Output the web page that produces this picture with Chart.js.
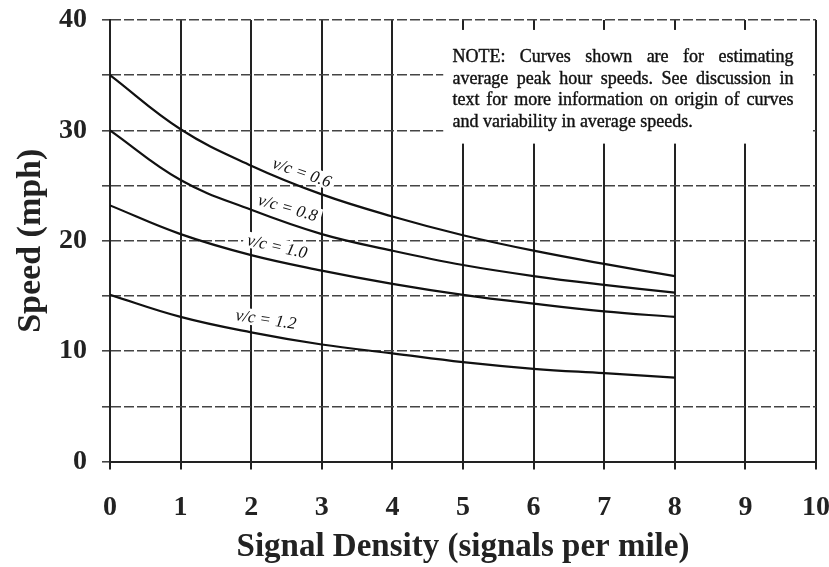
<!DOCTYPE html>
<html>
<head>
<meta charset="utf-8">
<script src="https://cdn.jsdelivr.net/npm/chart.js@4"></script>
<style>
  html, body { margin: 0; padding: 0; background: #fff; }
  #wrap { width: 829px; height: 567px; position: relative; }
</style>
</head>
<body>
<div id="wrap"><canvas id="speedChart"></canvas></div>
<script>
// signals per mile
const signalDensity = [0, 1, 2, 3, 4, 5, 6, 7, 8];

// average peak hour speed (mph) for each v/c ratio
const speedVc06 = [35.0, 30.1, 26.8, 24.2, 22.2, 20.5, 19.1, 17.9, 16.8];
const speedVc08 = [30.0, 25.5, 22.8, 20.6, 19.1, 17.8, 16.8, 16.0, 15.3];
const speedVc10 = [23.2, 20.6, 18.7, 17.3, 16.1, 15.1, 14.3, 13.6, 13.1];
const speedVc12 = [15.1, 13.1, 11.7, 10.6, 9.8, 9.0, 8.4, 8.0, 7.6];

const curveNames = ["v/c = 0.6", "v/c = 0.8", "v/c = 1.0", "v/c = 1.2"];

const noteLines = [
    "NOTE: Curves shown are for estimating",
    "average peak hour speeds.  See discussion in",
    "text for more information on origin of curves",
    "and variability in average speeds."
];

const serif = "'Liberation Serif', 'Times New Roman', serif";

function toPoints(ys) {
    return signalDensity.map((x, i) => ({ x: x, y: ys[i] }));
}

// where the curve labels sit (data units) and how far they are tilted
const curveLabels = [
    { text: curveNames[0], x: 2.72, y: 26.2, angle: 19 },
    { text: curveNames[1], x: 2.52, y: 23.0, angle: 16 },
    { text: curveNames[2], x: 2.37, y: 19.5, angle: 13 },
    { text: curveNames[3], x: 2.21, y: 12.9, angle: 8.5 }
];

const annotations = {
    id: "annotations",
    beforeDatasetsDraw(chart) {
        const { ctx, scales: { x, y } } = chart;
        ctx.save();

        // note box, white so it hides the grid under it
        const bx1 = x.getPixelForValue(4.72), bx2 = x.getPixelForValue(9.93);
        const by1 = y.getPixelForValue(39.1), by2 = y.getPixelForValue(28.8);
        ctx.fillStyle = "#fff";
        ctx.fillRect(bx1, by1, bx2 - bx1, by2 - by1);

        ctx.fillStyle = "#111";
        ctx.strokeStyle = "#111";
        ctx.lineWidth = 0.4;
        ctx.font = "18px " + serif;
        ctx.textBaseline = "alphabetic";
        const left = x.getPixelForValue(4.85), right = x.getPixelForValue(9.68);
        const top = y.getPixelForValue(36.2);
        noteLines.forEach((line, i) => {
            const by = top + i * 21.7;
            const words = line.split(/\s+/);
            if (i === noteLines.length - 1) {
                const t = words.join(" ");
                ctx.fillText(t, left, by);
                ctx.strokeText(t, left, by);
                return;
            }
            const widths = words.map(w => ctx.measureText(w).width);
            const total = widths.reduce((a, b) => a + b, 0);
            const gap = (right - left - total) / (words.length - 1);
            let cx = left;
            words.forEach((w, k) => {
                ctx.fillText(w, cx, by);
                ctx.strokeText(w, cx, by);
                cx += widths[k] + gap;
            });
        });

        // curve labels
        ctx.font = "italic 17px " + serif;
        ctx.textAlign = "center";
        ctx.textBaseline = "middle";
        curveLabels.forEach(l => {
            const px = x.getPixelForValue(l.x), py = y.getPixelForValue(l.y);
            const w = ctx.measureText(l.text).width;
            ctx.save();
            ctx.translate(px, py);
            ctx.rotate(l.angle * Math.PI / 180);
            ctx.fillStyle = "#fff";
            ctx.fillRect(-w / 2 - 4, -8, w + 8, 16);
            ctx.fillStyle = "#111";
            ctx.fillText(l.text, 0, 1);
            ctx.restore();
        });
        ctx.restore();
    }
};

const series = [speedVc06, speedVc08, speedVc10, speedVc12];

new Chart(document.getElementById("speedChart"), {
    type: "line",
    data: {
        datasets: series.map((s, i) => ({
            label: curveNames[i],
            data: toPoints(s),
            borderColor: "#111",
            borderWidth: 2.2,
            pointRadius: 0,
            fill: false,
            tension: 0.4
        }))
    },
    options: {
        responsive: true,
        maintainAspectRatio: false,
        animation: false,
        layout: { padding: 0 },
        plugins: {
            legend: { display: false },
            tooltip: { enabled: false }
        },
        scales: {
            x: {
                type: "linear",
                min: 0,
                max: 10,
                ticks: {
                    stepSize: 1,
                    padding: 21,
                    color: "#222",
                    font: { family: serif, size: 28, weight: "bold" }
                },
                grid: { color: "#222", lineWidth: 2, tickLength: 8 },
                border: { color: "#222", width: 2 },
                title: {
                    display: true,
                    text: "Signal Density (signals per mile)",
                    color: "#222",
                    font: { family: serif, size: 33, weight: "bold" },
                    padding: { top: 0, bottom: 0 }
                },
                afterFit(scale) {
                    scale.height = 105.5;
                    scale.paddingLeft = 0;
                    scale.paddingRight = 13;
                }
            },
            y: {
                min: 0,
                max: 40,
                ticks: {
                    stepSize: 5,
                    padding: 15,
                    color: "#222",
                    font: { family: serif, size: 28, weight: "bold" },
                    callback: v => (v % 10 === 0 ? v : "")
                },
                grid: { color: "#444", lineWidth: 1.6, tickLength: 8 },
                border: { color: "#222", width: 2, dash: [10, 3] },
                title: {
                    display: true,
                    text: "Speed (mph)",
                    color: "#222",
                    font: { family: serif, size: 34, weight: "bold" },
                    padding: { top: 11, bottom: 0 }
                },
                afterFit(scale) {
                    scale.width = 110;
                    scale.paddingTop = 20;
                    scale.paddingBottom = 0;
                }
            }
        }
    },
    plugins: [annotations]
});
</script>
</body>
</html>
